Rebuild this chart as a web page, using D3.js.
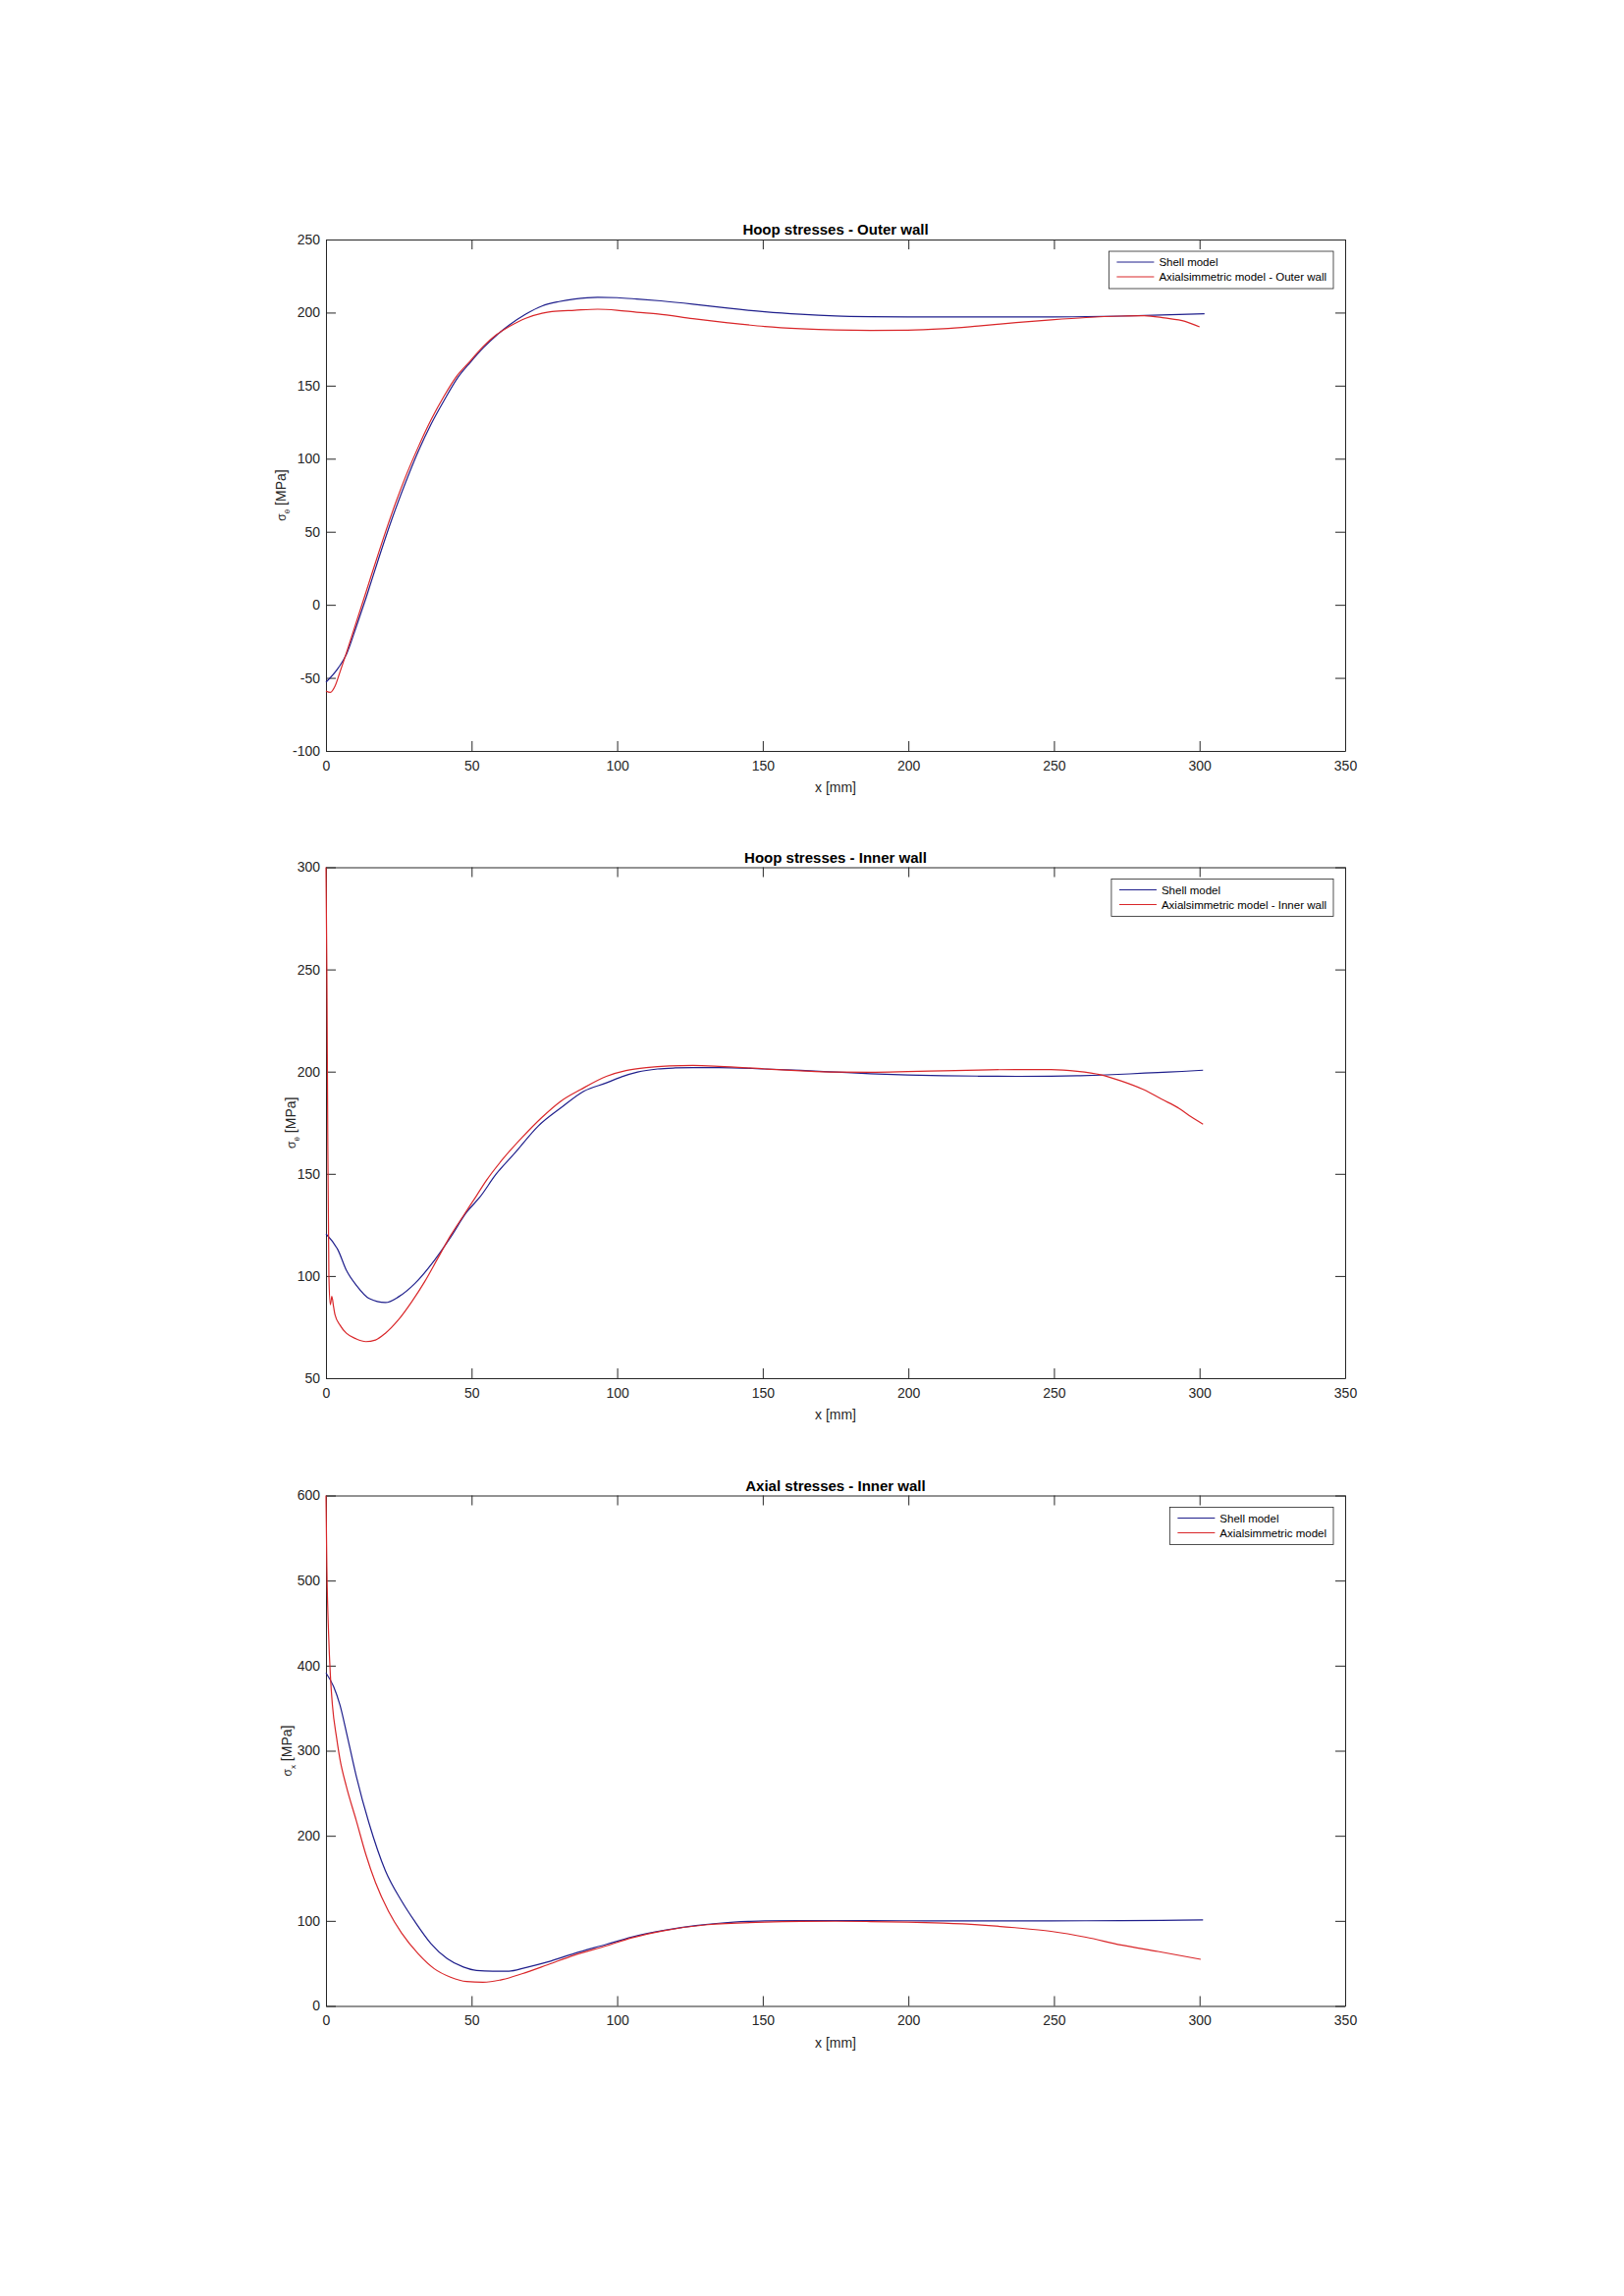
<!DOCTYPE html>
<html>
<head>
<meta charset="utf-8">
<script src="https://cdn.jsdelivr.net/npm/d3@7"></script>
<style>
  body { margin: 0; background: #fff; }
  svg { display: block; font-family: "Liberation Sans", Arial, Helvetica, sans-serif; }
</style>
</head>
<body>
<div id="chart"></div>
<script>
// x [mm] ticks shared by the three panels
const xTicks = [0, 50, 100, 150, 200, 250, 300, 350];

// Hoop stresses - Outer wall
const outerShellX = [0, 4.3, 7, 10.4, 13.8, 18.3, 22.7, 27.2, 31.7, 36.2, 40.6, 45.1, 49.6, 54.1, 58.6, 63, 68.6, 74.2, 80, 85.4, 93.3, 100, 106.7, 115, 126, 138, 150.7, 163, 175, 187, 199.8, 212, 224, 237, 249, 261, 273, 287, 301.7];
const outerShellY = [-53, -43, -34, -15, 5, 33, 59, 83, 105, 124, 140, 155, 166, 176, 184.5, 191.5, 198.9, 204.5, 207.5, 209.3, 210.5, 210.2, 209.3, 208, 205.8, 203, 200.5, 198.8, 197.7, 197.2, 197, 197, 197, 197, 197, 197.2, 197.6, 198.3, 199.2];
const outerAxiX = [0, 1.5, 3.1, 4.8, 7, 10.4, 13.8, 18.3, 22.7, 27.2, 31.7, 36.2, 40.6, 45.1, 49.6, 54.1, 58.6, 63, 68.6, 74.2, 77.6, 85.4, 93.3, 100, 106.7, 114, 126, 138, 150.7, 163, 175, 187, 199.8, 212, 224, 237, 249, 261, 273, 281, 288, 295, 300];
const outerAxiY = [-59, -60, -55.7, -46, -33, -12, 9, 37, 63, 87, 108, 127, 143, 157, 167, 177, 185, 190.5, 196.1, 199.5, 200.7, 201.6, 202.3, 201.6, 200.2, 199, 195.8, 193, 190.5, 189, 188.1, 187.8, 187.9, 188.9, 190.8, 193.1, 195, 196.6, 197.6, 197.9, 196.3, 194, 190.2];
const outerYTicks = [-100, -50, 0, 50, 100, 150, 200, 250];

// Hoop stresses - Inner wall
const innerShellX = [0, 4.2, 7, 10.4, 14.8, 20.4, 24.9, 30.5, 37.2, 42.8, 48.3, 52.8, 58.4, 65, 72.9, 80.7, 88.5, 96.3, 101.6, 107, 113.9, 120, 126, 135, 150.7, 163, 175, 187, 199.8, 212, 224, 237, 249, 258, 266, 276, 285.7, 294, 301.2];
const innerShellY = [120.6, 112.5, 102.8, 95.5, 89, 87, 89.8, 96.3, 107.6, 119, 131.2, 138.5, 149.8, 160.4, 173.4, 182.3, 190.4, 194.5, 197.5, 199.8, 201.3, 201.8, 202, 202, 201.3, 200.6, 199.8, 199, 198.4, 198, 197.8, 197.7, 197.8, 198, 198.3, 198.9, 199.6, 200.1, 200.7];
const innerAxiX = [0, 0.3, 0.6, 1.0, 1.5, 2.0, 2.6, 3.1, 4.8, 7, 10.4, 13.7, 17, 20.4, 24.9, 29.4, 33.8, 38.3, 42.8, 47.2, 51.7, 55, 60.6, 67.3, 74, 80.7, 87.4, 96.3, 103, 110, 118, 126, 135, 150.7, 163, 175, 187, 199.8, 212, 224, 237, 249, 258, 266, 273, 280.8, 287, 293, 297, 301.2];
const innerAxiY = [300, 250, 170, 100, 86, 90, 85, 81, 76, 72, 69.2, 67.9, 68.7, 72, 78.6, 87.3, 97, 108.4, 119.8, 129.5, 139.3, 146.6, 157, 167.7, 177.4, 185.6, 191.2, 197.7, 200.5, 202, 202.8, 203, 202.6, 201.3, 200.4, 199.8, 199.7, 200, 200.4, 200.8, 201, 201, 200.2, 198.5, 195.5, 191.2, 186.5, 182, 178, 174.3];
const innerYTicks = [50, 100, 150, 200, 250, 300];

// Axial stresses - Inner wall
const axialShellX = [0, 2.6, 4.8, 7, 10.4, 14.8, 20.4, 26, 30.5, 36, 41.6, 47.2, 51.7, 57.3, 62.8, 68.4, 76.2, 85.2, 96.3, 105, 116.3, 127, 136, 145, 150.7, 163, 175, 187, 199.8, 212, 224, 237, 249, 261, 273, 287, 301.2];
const axialShellY = [391.4, 375.5, 353.7, 321.9, 270.2, 214.6, 159, 123.2, 99.3, 73.5, 55.6, 45.7, 41.7, 40.9, 40.9, 44.9, 51.7, 61.6, 72.4, 81, 89, 94.5, 97.5, 99.3, 100, 100.3, 100.4, 100.3, 100.1, 100, 100, 100, 100, 100.1, 100.3, 100.6, 101];
const axialAxiX = [0, 0.3, 0.9, 1.5, 2.2, 3.7, 4.8, 7, 10.4, 13.7, 17, 21.5, 26, 31.6, 37.2, 42.8, 48.3, 53.9, 60.6, 67.3, 76.2, 85.2, 96.3, 105, 116, 131, 150.7, 163, 175, 187, 199.8, 212, 224, 236.6, 249, 261, 273, 285.7, 300.4];
const axialAxiY = [600, 516, 437, 389, 354, 314, 290, 258, 218, 178, 145, 111, 85.5, 61.6, 43.7, 33.8, 28.7, 27.9, 31, 37.8, 48.5, 59.6, 70.7, 80, 88.5, 95.5, 98.5, 99.3, 99.5, 99.2, 98.6, 97.3, 95.3, 92, 87.7, 80.8, 71.7, 64, 54.8];
const axialYTicks = [0, 100, 200, 300, 400, 500, 600];

const titles = ["Hoop stresses - Outer wall", "Hoop stresses - Inner wall", "Axial stresses - Inner wall"];
const legendOuter = ["Shell model", "Axialsimmetric model - Outer wall"];
const legendInner = ["Shell model", "Axialsimmetric model - Inner wall"];
const legendAxial = ["Shell model", "Axialsimmetric model"];

const textColor = "#262626";
const blue = "#1f1f8c";
const red = "#d92629";

const svg = d3.select("#chart").append("svg")
    .attr("width", 1654)
    .attr("height", 2339);

const left = 332, right = 1370;
const x = d3.scaleLinear().domain([0, 350]).range([left, right]);

function panel(p) {
    const y = d3.scaleLinear().domain(d3.extent(p.yTicks)).range([p.bottom, p.top]);
    const g = svg.append("g");

    // box + inward ticks on all four sides
    const styleAxis = sel => {
        sel.select(".domain").attr("stroke", textColor);
        sel.selectAll(".tick line").attr("stroke", textColor);
        sel.selectAll(".tick text").attr("fill", textColor).attr("font-size", 14);
    };
    g.append("g").attr("transform", `translate(0,${p.bottom})`)
        .call(d3.axisBottom(x).tickValues(xTicks).tickSizeInner(-10).tickSizeOuter(0).tickPadding(10))
        .call(styleAxis);
    g.append("g").attr("transform", `translate(0,${p.top})`)
        .call(d3.axisTop(x).tickValues(xTicks).tickSizeInner(-10).tickSizeOuter(0).tickFormat(""))
        .call(styleAxis);
    g.append("g").attr("transform", `translate(${left},0)`)
        .call(d3.axisLeft(y).tickValues(p.yTicks).tickSizeInner(-10).tickSizeOuter(0).tickPadding(6))
        .call(styleAxis);
    g.append("g").attr("transform", `translate(${right},0)`)
        .call(d3.axisRight(y).tickValues(p.yTicks).tickSizeInner(-10).tickSizeOuter(0).tickFormat(""))
        .call(styleAxis);
    g.selectAll(".domain").attr("stroke-width", 1);
    // d3 uses a unicode minus; MATLAB shows a hyphen
    g.selectAll(".tick text").text(function () { return this.textContent.replace("\u2212", "-"); });

    const line = d3.line().curve(d3.curveMonotoneX).x(d => x(d[0])).y(d => y(d[1]));
    p.series.forEach(s => {
        g.append("path")
            .datum(d3.zip(s.xs, s.ys))
            .attr("fill", "none")
            .attr("stroke", s.color)
            .attr("stroke-width", 1.2)
            .attr("stroke-linejoin", "round")
            .attr("d", line);
    });

    g.append("text")
        .attr("x", (left + right) / 2)
        .attr("y", p.top - 5)
        .attr("text-anchor", "middle")
        .attr("font-size", 15)
        .attr("font-weight", "bold")
        .attr("fill", "#000")
        .text(p.title);

    g.append("text")
        .attr("x", (left + right) / 2)
        .attr("y", p.bottom + 42)
        .attr("text-anchor", "middle")
        .attr("font-size", 14)
        .attr("fill", textColor)
        .text("x [mm]");

    const yl = g.append("text")
        .attr("transform", `translate(${p.labelX},${(p.top + p.bottom) / 2}) rotate(-90)`)
        .attr("text-anchor", "middle")
        .attr("font-size", 14)
        .attr("fill", textColor);
    yl.append("tspan").attr("font-size", 12).text("\u03c3");
    yl.append("tspan").attr("font-size", 8).attr("dy", 4).text(p.sub);
    yl.append("tspan").attr("dy", -4).text(" [MPa]");

    // legend, top-right inside the axes
    const lg = g.append("g");
    const box = lg.append("rect")
        .attr("fill", "#fff")
        .attr("stroke", textColor)
        .attr("stroke-width", 0.8);
    let maxW = 0;
    p.series.forEach((s, i) => {
        const cy = p.top + 23 + i * 15;
        lg.append("line")
            .attr("x1", 8).attr("x2", 46)
            .attr("y1", cy).attr("y2", cy)
            .attr("stroke", s.color)
            .attr("stroke-width", 1);
        const t = lg.append("text")
            .attr("x", 51)
            .attr("y", cy)
            .attr("dy", "0.35em")
            .attr("font-size", 11.5)
            .attr("fill", "#000")
            .text(p.legend[i]);
        maxW = Math.max(maxW, t.node().getComputedTextLength());
    });
    const w = 51 + maxW + 7;
    box.attr("x", 0).attr("y", p.top + 12).attr("width", w).attr("height", 38);
    lg.attr("transform", `translate(${right - 12 - w},0)`);
}

panel({
    top: 244, bottom: 765, yTicks: outerYTicks, title: titles[0], sub: "\u03b8", labelX: 291,
    legend: legendOuter,
    series: [
        { xs: outerShellX, ys: outerShellY, color: blue },
        { xs: outerAxiX, ys: outerAxiY, color: red }
    ]
});

panel({
    top: 883.5, bottom: 1404, yTicks: innerYTicks, title: titles[1], sub: "\u03b8", labelX: 301,
    legend: legendInner,
    series: [
        { xs: innerShellX, ys: innerShellY, color: blue },
        { xs: innerAxiX, ys: innerAxiY, color: red }
    ]
});

panel({
    top: 1523.5, bottom: 2043.5, yTicks: axialYTicks, title: titles[2], sub: "x", labelX: 297,
    legend: legendAxial,
    series: [
        { xs: axialShellX, ys: axialShellY, color: blue },
        { xs: axialAxiX, ys: axialAxiY, color: red }
    ]
});
</script>
</body>
</html>
